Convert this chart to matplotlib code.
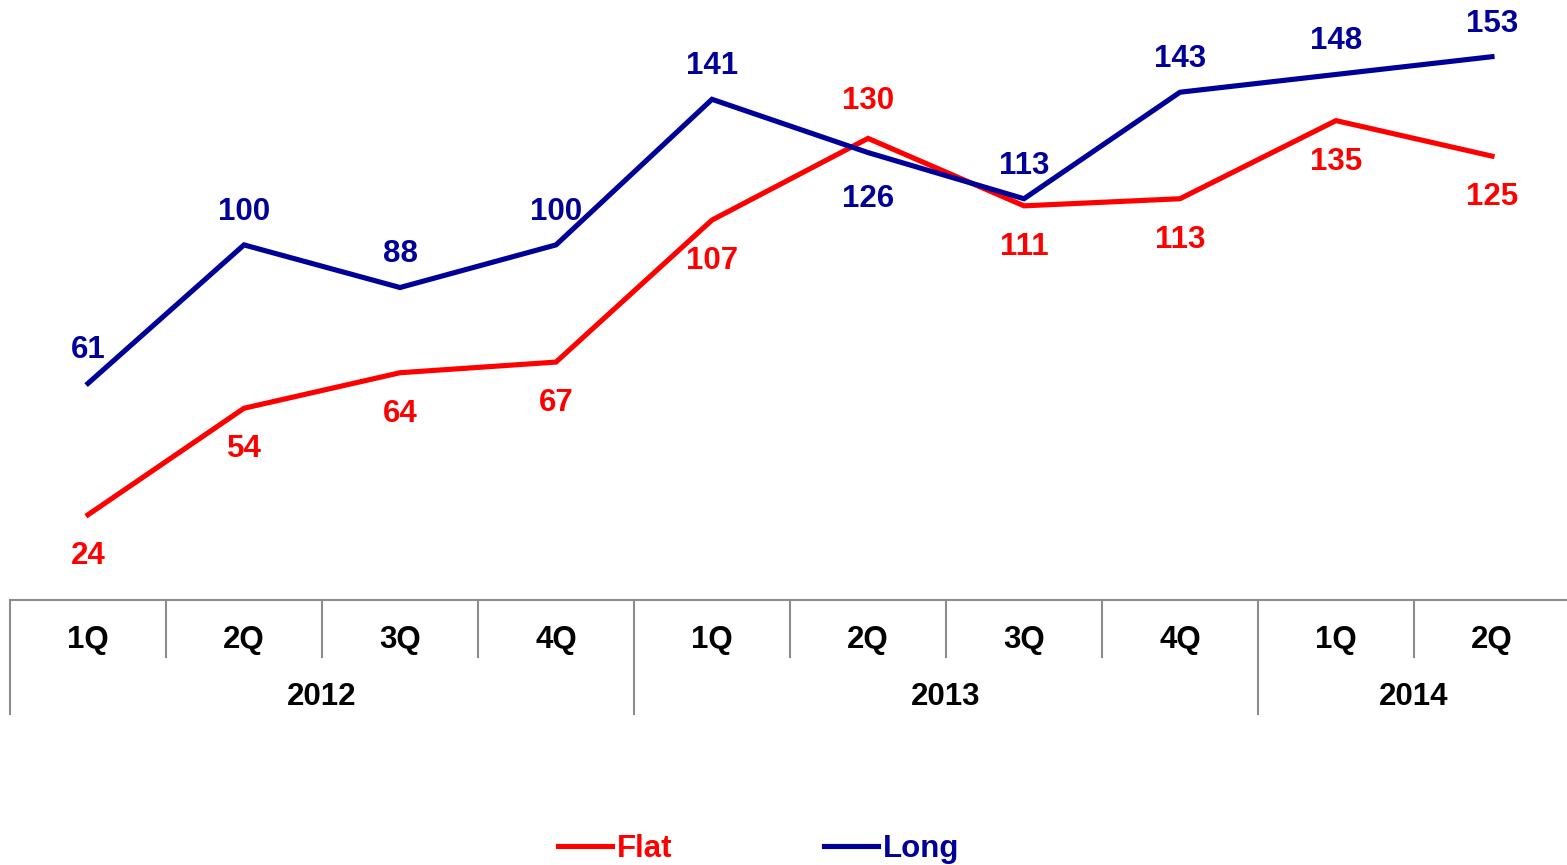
import matplotlib
matplotlib.use('Agg')

import matplotlib.pyplot as plt

plt.rcParams['font.family'] = ['Liberation Sans', 'DejaVu Sans']
plt.rcParams['font.weight'] = 'bold'

# quarterly series
quarters = ['1Q', '2Q', '3Q', '4Q', '1Q', '2Q', '3Q', '4Q', '1Q', '2Q']
years = ['2012', '2013', '2014']
year_spans = [(0, 3), (4, 7), (8, 9)]
flat = [24, 54, 64, 67, 107, 130, 111, 113, 135, 125]
long_ = [61, 100, 88, 100, 141, 126, 113, 143, 148, 153]

# which side of the line each value label sits on (1 = above, -1 = below)
flat_side = [-1, -1, -1, -1, -1, 1, -1, -1, -1, -1]
long_side = [1, 1, 1, 1, 1, -1, 1, 1, 1, 1]

RED = '#ff0000'
BLUE = '#000099'
GRAY = '#8c8c8c'
FS = 22.5

W, H = 1567, 865
fig = plt.figure(figsize=(W / 100, H / 100), dpi=100)
ax = fig.add_axes([10 / W, (H - 600) / H, 1560 / W, 571 / H])

x = list(range(len(quarters)))
ax.plot(x, flat, color=RED, lw=3.7, label='Flat', solid_joinstyle='miter')
ax.plot(x, long_, color=BLUE, lw=3.7, label='Long', solid_joinstyle='miter')

ax.set_xlim(-0.5, len(quarters) - 0.5)
ax.set_ylim(0, 160.8)

# value labels, nudged a little below the symmetric offset
for i in x:
    ax.annotate(str(flat[i]), (i, flat[i]),
                xytext=(0, 27 if flat_side[i] > 0 else -29.5),
                textcoords='offset points', ha='center', va='center',
                color=RED, fontsize=FS, fontweight='bold')
    ax.annotate(str(long_[i]), (i, long_[i]),
                xytext=(0, 23.8 if long_side[i] > 0 else -33.5),
                textcoords='offset points', ha='center', va='center',
                color=BLUE, fontsize=FS, fontweight='bold')

# category axis drawn as a two-level table
for s in ['top', 'left', 'right']:
    ax.spines[s].set_visible(False)
ax.spines['bottom'].set_color(GRAY)
ax.spines['bottom'].set_linewidth(1.5)
ax.set_xticks([])
ax.set_yticks([])

trans = ax.get_xaxis_transform()
row = 57 / 571
year_starts = [a for a, b in year_spans]
for k in range(len(quarters)):
    depth = 2 * row if k in year_starts else row
    ax.plot([k - 0.5, k - 0.5], [0, -depth], color=GRAY, lw=1.5,
            transform=trans, clip_on=False)
    ax.text(k, -40 / 571, quarters[k], transform=trans, ha='center',
            va='center', fontsize=FS, fontweight='bold')

for yr, (a, b) in zip(years, year_spans):
    ax.text((a + b) / 2, -97 / 571, yr, transform=trans, ha='center',
            va='center', fontsize=FS, fontweight='bold')

leg = fig.legend(loc='center', bbox_to_anchor=(0.484, 0.019), ncol=2,
                 frameon=False, fontsize=FS, handlelength=1.73,
                 handletextpad=0.15, columnspacing=4.85)
for txt, c in zip(leg.get_texts(), [RED, BLUE]):
    txt.set_color(c)
    txt.set_fontweight('bold')

fig.savefig('out.png', dpi=100)
